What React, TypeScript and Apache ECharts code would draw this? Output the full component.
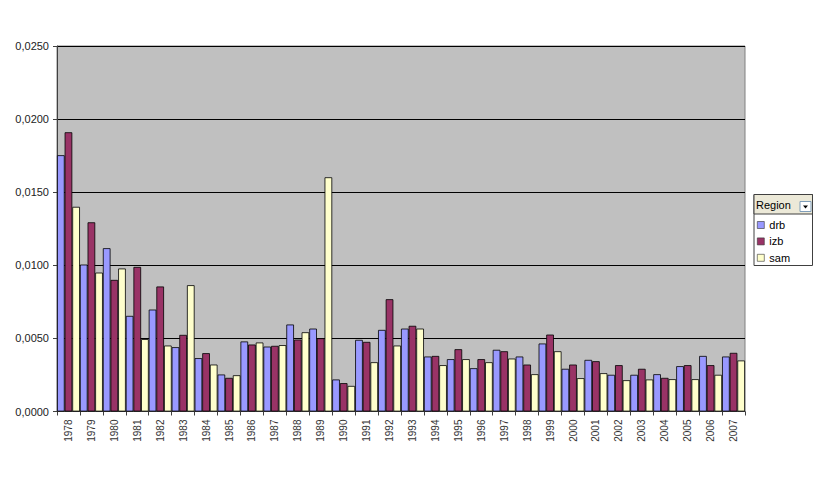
import React, { useEffect, useRef } from "react";
import * as echarts from "echarts";

const years = [
  "1978", "1979", "1980", "1981", "1982", "1983", "1984", "1985", "1986", "1987",
  "1988", "1989", "1990", "1991", "1992", "1993", "1994", "1995", "1996", "1997",
  "1998", "1999", "2000", "2001", "2002", "2003", "2004", "2005", "2006", "2007",
];

const drb = [
  0.01753, 0.01005, 0.01117, 0.00654, 0.00697, 0.0044, 0.00365, 0.00253, 0.00479, 0.00444,
  0.00595, 0.00567, 0.00219, 0.0049, 0.00558, 0.00567, 0.00376, 0.00358, 0.00296, 0.00422,
  0.00376, 0.00465, 0.00292, 0.00353, 0.00251, 0.00251, 0.00255, 0.0031, 0.0038, 0.00376,
];

const izb = [
  0.0191, 0.01294, 0.009, 0.00989, 0.00855, 0.00524, 0.00399, 0.0023, 0.00458, 0.00449,
  0.00492, 0.00501, 0.00194, 0.00476, 0.00768, 0.00586, 0.0038, 0.00426, 0.00358, 0.00412,
  0.00321, 0.00526, 0.00321, 0.00344, 0.00317, 0.00292, 0.0023, 0.00317, 0.00317, 0.00401,
];

const sam = [
  0.014, 0.0095, 0.00978, 0.00495, 0.00451, 0.00864, 0.00321, 0.00248, 0.00472, 0.00454,
  0.00542, 0.01602, 0.00175, 0.00337, 0.00451, 0.00567, 0.00317, 0.00358, 0.00337, 0.00362,
  0.00255, 0.00412, 0.00228, 0.00262, 0.00214, 0.00219, 0.00221, 0.00221, 0.00251, 0.00349,
];

const seriesNames = ["drb", "izb", "sam"];
const seriesColors = ["#9999FF", "#993366", "#FFFFCC"];
const legendTitle = "Region";

export default function App() {
  const ref = useRef<HTMLDivElement>(null);

  useEffect(() => {
    if (!ref.current) return;
    const chart = echarts.init(ref.current, null, { renderer: "svg" });
    const font = "'Liberation Sans', Arial, sans-serif";
    const data = [drb, izb, sam];
    chart.setOption({
      animation: false,
      backgroundColor: "#ffffff",
      textStyle: { fontFamily: font },
      grid: {
        left: 57,
        right: 81,
        top: 46,
        bottom: 74.5,
        show: true,
        backgroundColor: "#C0C0C0",
        borderColor: "#808080",
        borderWidth: 1,
      },
      legend: {
        orient: "vertical",
        left: 757,
        top: 219,
        padding: 0,
        itemWidth: 7,
        itemHeight: 7,
        itemGap: 4.4,
        icon: "rect",
        data: seriesNames,
        selectedMode: false,
        itemStyle: { borderColor: "#333", borderWidth: 0.6 },
        textStyle: { fontSize: 11, color: "#000", fontFamily: font, lineHeight: 12 },
      },
      xAxis: {
        type: "category",
        data: years,
        axisLine: { show: true, lineStyle: { color: "#404040", width: 1 } },
        axisTick: { show: true, length: 4, lineStyle: { color: "#404040" } },
        axisLabel: {
          rotate: 90,
          fontSize: 10,
          color: "#333",
          margin: 8,
          interval: 0,
          fontFamily: font,
        },
      },
      yAxis: {
        type: "value",
        min: 0,
        max: 0.025,
        interval: 0.005,
        axisLine: { show: true, lineStyle: { color: "#404040", width: 1 } },
        axisTick: { show: true, inside: false, length: 4, lineStyle: { color: "#404040" } },
        splitLine: { show: true, lineStyle: { color: "#000000", width: 1 } },
        axisLabel: {
          fontSize: 11,
          color: "#222",
          margin: 8,
          fontFamily: font,
          formatter: (v: number) => v.toFixed(4).replace(".", ","),
        },
      },
      series: seriesNames.map((name, i) => ({
        name,
        type: "bar",
        data: data[i],
        barGap: "0%",
        barCategoryGap: "0%",
        itemStyle: { color: seriesColors[i], borderColor: "#000", borderWidth: 0.8 },
      })),
      graphic: [
        {
          type: "rect",
          z: 0,
          shape: { x: 754, y: 194.5, width: 58.5, height: 71 },
          style: { fill: "#ffffff", stroke: "#404040", lineWidth: 1 },
        },
        {
          type: "rect",
          z: 1,
          shape: { x: 754, y: 194.5, width: 58.5, height: 19.5 },
          style: { fill: "#ECE9D8", stroke: "#404040", lineWidth: 1 },
        },
        {
          type: "text",
          z: 2,
          x: 756,
          y: 204.5,
          style: {
            text: legendTitle,
            fontSize: 11,
            fontFamily: font,
            fill: "#000",
            verticalAlign: "middle",
            align: "left",
          },
        },
        {
          type: "rect",
          z: 2,
          shape: { x: 800, y: 201.5, width: 11, height: 10 },
          style: { fill: "#ffffff", stroke: "#7F9DB9", lineWidth: 1 },
        },
        {
          type: "polygon",
          z: 3,
          shape: { points: [[803, 205.5], [808, 205.5], [805.5, 208.5]] },
          style: { fill: "#000" },
        },
      ],
    });
    return () => chart.dispose();
  }, []);

  return <div ref={ref} style={{ width: 826, height: 486, margin: -8 }} />;
}
